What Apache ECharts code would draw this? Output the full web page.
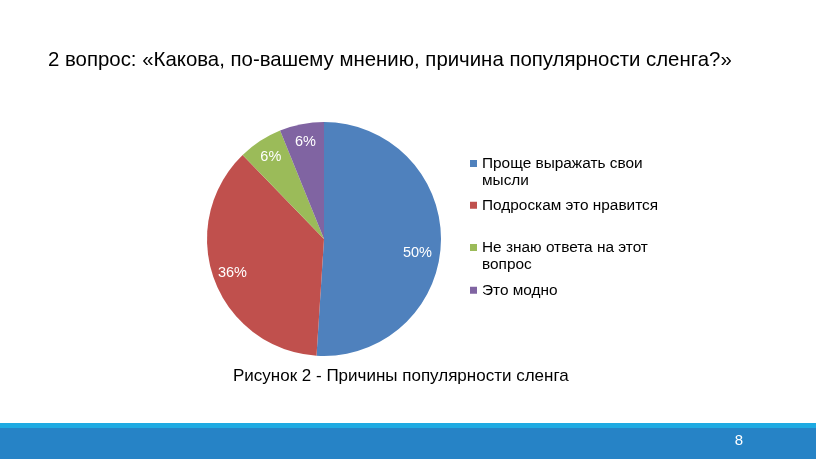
<!DOCTYPE html>
<html>
<head>
<meta charset="utf-8">
<script src="https://cdn.jsdelivr.net/npm/echarts@6/dist/echarts.min.js"></script>
<style>html,body{margin:0;padding:0;background:#fff;}#c{width:816px;height:459px;}</style>
</head>
<body>
<div id="c"></div>
<script>
var categories = ['Проще выражать свои\nмысли', 'Подроскам это нравится', 'Не знаю ответа на этот\nвопрос', 'Это модно'];
var values = [50, 36, 6, 6];
var colors = ['#4F81BD', '#C0504D', '#9BBB59', '#8064A2'];
var titleText = '2 вопрос: «Какова, по-вашему мнению, причина популярности сленга?»';
var captionText = 'Рисунок 2 - Причины популярности сленга';
var pageNumber = '8';

var chart = echarts.init(document.getElementById('c'), null, {renderer: 'canvas'});
var pieData = categories.map(function (n, i) { return {name: n, value: values[i], itemStyle: {color: colors[i]}}; });
var labelOffsets = [[-4, 11], [0, 0], [0, 0], [0, -1]];
var labelData = categories.map(function (n, i) { return {name: n, value: values[i], label: {offset: labelOffsets[i]}}; });

var legendTops = [154.5, 196.5, 238.5, 281.5];
var tallIcon = 'path://M0,0L7,0L7,7L0,7Z M0,24L7,24L7,24Z';
var legends = categories.map(function (n, i) {
  var multi = n.indexOf('\n') >= 0;
  return {
    orient: 'vertical', left: 470, top: legendTops[i], padding: 0,
    itemWidth: 7, itemHeight: multi ? 24 : 7, icon: multi ? tallIcon : 'rect', selectedMode: false,
    data: [{name: n, itemStyle: {color: colors[i]}}],
    textStyle: {fontFamily: 'Liberation Sans, Arial', fontSize: 15.4, color: '#000', lineHeight: 17.5}
  };
});

chart.setOption({
  animation: false,
  title: [
    {text: titleText, left: 48, top: 50, padding: 0,
     textStyle: {fontFamily: 'Liberation Sans Narrow, Liberation Sans, Arial', fontSize: 20.4, fontWeight: 'normal', color: '#000'}},
    {text: captionText, left: 233, top: 368, padding: 0,
     textStyle: {fontFamily: 'Liberation Sans, Arial', fontSize: 17, fontWeight: 'normal', color: '#000'}}
  ],
  legend: legends,
  series: [
    {type: 'pie', center: [324, 239], radius: [0, 117], startAngle: 90, clockwise: true,
     data: pieData, label: {show: false}, labelLine: {show: false}, silent: true},
    {type: 'pie', center: [324, 239], radius: [72, 117], startAngle: 90, clockwise: true,
     data: labelData, silent: true, itemStyle: {color: 'rgba(0,0,0,0)'},
     label: {show: true, position: 'inside', formatter: '{c}%', color: '#fff',
       fontFamily: 'Liberation Sans, Arial', fontSize: 14.5},
     labelLine: {show: false}}
  ],
  graphic: [
    {type: 'rect', shape: {x: 0, y: 423, width: 816, height: 5}, style: {fill: '#1EAAE2'}},
    {type: 'rect', shape: {x: 0, y: 428, width: 816, height: 31}, style: {fill: '#2683C6'}},
    {type: 'text', x: 739, y: 441, style: {text: pageNumber, fill: '#fff', font: '15px Liberation Sans Narrow, Liberation Sans, Arial', textAlign: 'center', textVerticalAlign: 'middle'}}
  ]
});
</script>
</body>
</html>
